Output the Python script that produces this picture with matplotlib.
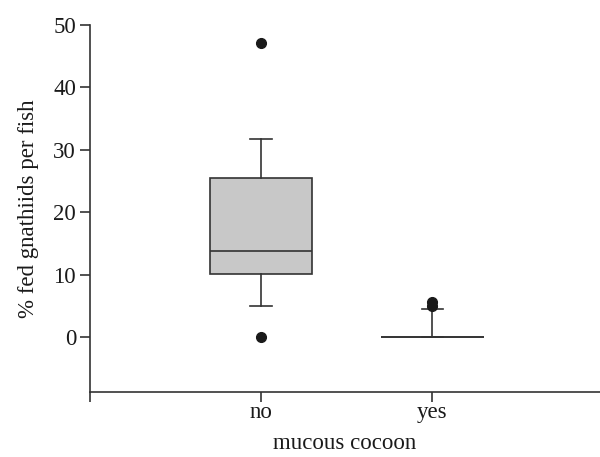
import matplotlib
matplotlib.use("Agg")
import matplotlib.pyplot as plt

# box statistics
categories = ["no", "yes"]
q1 = [10.1, 0.0]
medians = [13.8, 0.0]
q3 = [25.5, 0.0]
whis_low = [5.0, 0.0]
whis_high = [31.7, 4.5]
outliers = [[0.0, 47.0], [4.9, 5.6]]

plt.rcParams["font.family"] = ["Liberation Serif", "DejaVu Serif"]
plt.rcParams["font.size"] = 16.5

fig = plt.figure(figsize=(6.0, 4.57), dpi=100)
ax = fig.add_axes([0.15, 0.142, 0.85, 0.804])

stats = []
for i, name in enumerate(categories):
    stats.append({
        "label": name,
        "q1": q1[i],
        "med": medians[i],
        "q3": q3[i],
        "whislo": whis_low[i],
        "whishi": whis_high[i],
        "fliers": outliers[i],
    })

line_col = "#333333"
ax.bxp(stats, positions=[1, 2], widths=0.6, patch_artist=True,
       boxprops=dict(facecolor="#c8c8c8", edgecolor=line_col, linewidth=1.2),
       medianprops=dict(color=line_col, linewidth=1.2),
       whiskerprops=dict(color=line_col, linewidth=1.2),
       capprops=dict(color=line_col, linewidth=1.2),
       capwidths=0.125,
       flierprops=dict(marker="o", markerfacecolor="#1a1a1a",
                       markeredgecolor="#1a1a1a", markersize=7))

ax.set_xlim(0, 2.98)
ax.set_ylim(-8.8, 50)
ax.set_yticks([0, 10, 20, 30, 40, 50])
ax.set_xticks([0, 1, 2])
ax.set_xticklabels(["", "no", "yes"])

for side in ["top", "right"]:
    ax.spines[side].set_visible(False)
for side in ["left", "bottom"]:
    ax.spines[side].set_color(line_col)
    ax.spines[side].set_linewidth(1.2)
ax.tick_params(colors=line_col, labelcolor="#1a1a1a", length=7, width=1.2)
ax.tick_params(axis="y", pad=3)
ax.tick_params(axis="x", pad=0)

ax.set_xlabel("mucous cocoon", color="#1a1a1a", labelpad=7)
ax.set_ylabel("% fed gnathiids per fish", color="#1a1a1a", labelpad=10)

fig.savefig("out.png", dpi=100)
